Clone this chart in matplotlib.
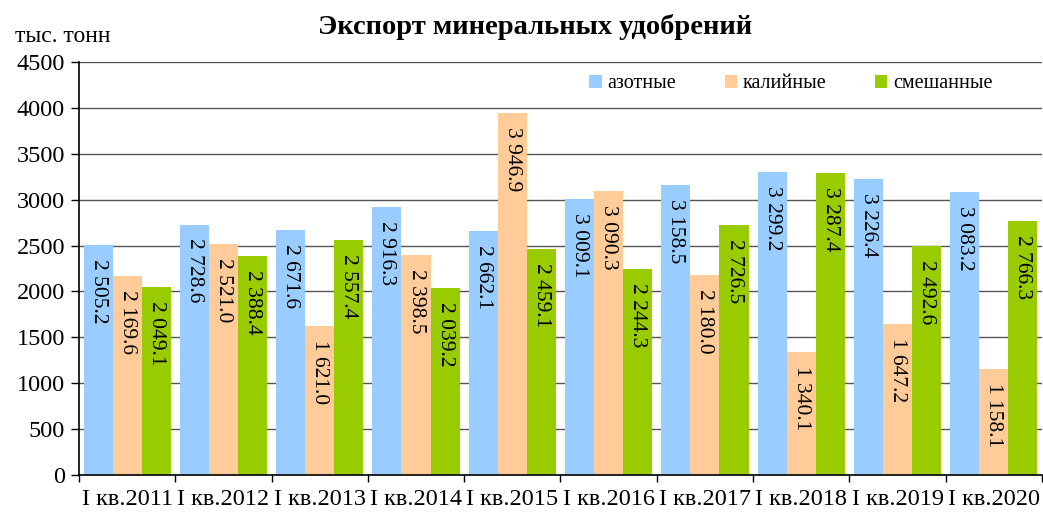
import matplotlib
matplotlib.use("Agg")
import matplotlib.pyplot as plt
import numpy as np
from matplotlib.patches import Patch

categories = ["I кв.2011", "I кв.2012", "I кв.2013", "I кв.2014", "I кв.2015",
              "I кв.2016", "I кв.2017", "I кв.2018", "I кв.2019", "I кв.2020"]
series_names = ["азотные", "калийные", "смешанные"]
azot = [2505.2, 2728.6, 2671.6, 2916.3, 2662.1, 3009.1, 3158.5, 3299.2, 3226.4, 3083.2]
kaliy = [2169.6, 2521.0, 1621.0, 2398.5, 3946.9, 3090.3, 2180.0, 1340.1, 1647.2, 1158.1]
smesh = [2049.1, 2388.4, 2557.4, 2039.2, 2459.1, 2244.3, 2726.5, 3287.4, 2492.6, 2766.3]
colors = ["#99CCFF", "#FFCC99", "#99CC00"]

plt.rcParams['font.family'] = ['Liberation Serif', 'DejaVu Serif']

fig = plt.figure(figsize=(10.43, 5.13), dpi=100)
ax = fig.add_axes([79/1043, 1 - 475/513, 1 - 79/1043 - 0.001, (475 - 62)/513])

x = np.arange(len(categories))
w = 0.302
for i, (vals, c) in enumerate(zip([azot, kaliy, smesh], colors)):
    bars = ax.bar(x + (i - 1) * w, vals, width=w, color=c, zorder=2)
    for b, v in zip(bars, vals):
        s = f"{v:,.1f}".replace(",", " ")
        ax.annotate(s, (b.get_x() + b.get_width() / 2, b.get_height()),
                    xytext=(0, -10), textcoords="offset points",
                    rotation=270, ha="center", va="top", fontsize=15.5, zorder=3)

ax.set_xlim(-0.5, len(categories) - 0.5)
ax.set_ylim(0, 4500)
ax.set_yticks(np.arange(0, 4501, 500))
ax.yaxis.grid(True, color="#555555", linewidth=1, zorder=0)
ax.set_axisbelow(True)
ax.set_xticks(x)
ax.set_xticklabels(categories, fontsize=17.5)
ax.set_xticks(np.arange(-0.5, len(categories), 1), minor=True)
ax.tick_params(axis="x", which="major", length=0, pad=10)
ax.tick_params(axis="x", which="minor", length=5, width=1, color="black", direction="out")
ax.tick_params(axis="y", labelsize=17.5, length=6, width=1, direction="out", pad=4)
for sp in ["top", "right"]:
    ax.spines[sp].set_visible(False)
ax.spines["left"].set_color("black")
ax.spines["bottom"].set_color("black")
ax.spines["left"].set_linewidth(1.2)
ax.spines["bottom"].set_linewidth(1.2)

fig.text(535/1043, 1 - 27/513, "Экспорт минеральных удобрений", ha="center", va="center",
         fontsize=20.5, fontweight="bold")
fig.text(15/1043, 1 - 36/513, "тыс. тонн", ha="left", va="center", fontsize=17)

handles = [Patch(facecolor=c, edgecolor="none") for c in colors]
leg = ax.legend(handles, series_names, loc="center left",
                bbox_to_anchor=((590 - 79) / 964, (475 - 84) / 413),
                ncol=3, frameon=False, fontsize=14.5, handlelength=0.6, handleheight=0.6,
                handletextpad=0.3, columnspacing=2.4, borderaxespad=0, borderpad=0)

fig.savefig("out.png", dpi=100)
